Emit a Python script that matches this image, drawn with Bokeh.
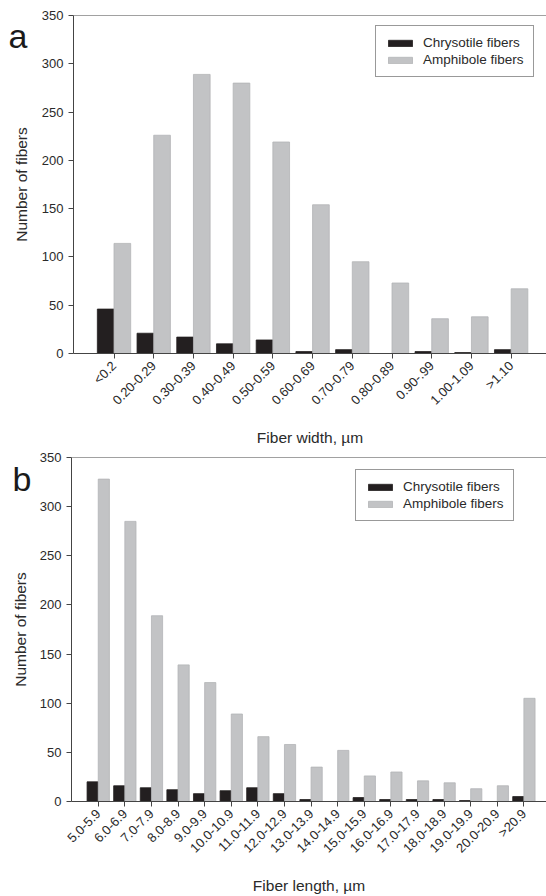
import math
from bokeh.plotting import figure
from bokeh.models import (ColumnDataSource, FixedTicker, Range1d, Legend,
                          LegendItem, Span)
from bokeh.layouts import column, row
from bokeh.transform import dodge
from bokeh.core.properties import value
from bokeh.embed import file_html
from bokeh.resources import INLINE

# ---- data ----
width_cats = ["<0.2", "0.20-0.29", "0.30-0.39", "0.40-0.49", "0.50-0.59", "0.60-0.69",
              "0.70-0.79", "0.80-0.89", "0.90-.99", "1.00-1.09", ">1.10"]
width_chrysotile = [46, 21, 17, 10, 14, 2, 4, 0, 2, 1, 4]
width_amphibole = [114, 226, 289, 280, 219, 154, 95, 73, 36, 38, 67]

length_cats = ["5.0-5.9", "6.0-6.9", "7.0-7.9", "8.0-8.9", "9.0-9.9", "10.0-10.9",
               "11.0-11.9", "12.0-12.9", "13.0-13.9", "14.0-14.9", "15.0-15.9",
               "16.0-16.9", "17.0-17.9", "18.0-18.9", "19.0-19.9", "20.0-20.9", ">20.9"]
length_chrysotile = [20, 16, 14, 12, 8, 11, 14, 8, 2, 0, 4, 2, 2, 2, 1, 0, 5]
length_amphibole = [328, 285, 189, 139, 121, 89, 66, 58, 35, 52, 26, 30, 21, 19, 13, 16, 105]

y_ticks = [0, 50, 100, 150, 200, 250, 300, 350]
series_names = ["Chrysotile fibers", "Amphibole fibers"]
y_title = "Number of fibers"

FONT = "Liberation Sans"
BLACK = "#231f20"
GREY = "#c2c3c5"
AXIS = "#444444"
TEXT = "#2a2a2a"
SIDE_W = 36
FIG_H = 448


def side(letter, letter_pos, ylabel_pos):
    """Narrow strip left of the chart (its frame is aligned with the chart frame)
    holding the panel letter and the y title."""
    s = figure(width=SIDE_W, height=FIG_H, output_backend="svg", toolbar_location=None,
               x_range=Range1d(0, SIDE_W), y_range=Range1d(0, 350),
               min_border=0, x_axis_type=None, y_axis_type=None)
    s.outline_line_color = None
    s.grid.visible = False
    s.text(x=[letter_pos[0]], y=[letter_pos[1]], text=[letter], text_font=value(FONT),
           text_font_size="34px", text_color="#1a1a1a", text_align="left",
           text_baseline="alphabetic")
    s.text(x=[ylabel_pos[0]], y=[ylabel_pos[1]], text=[y_title], text_font=value(FONT),
           text_font_size="15.5px", text_color=TEXT, text_align="center",
           text_baseline="middle", angle=math.pi / 2)
    return s


def panel(cats, chry, amph, xlabel, b_left, b_top, b_bottom, x_start, x_end, legend_xy):
    n = len(cats)
    idx = list(range(n))
    src = ColumnDataSource(dict(x=idx, c=chry, a=amph))
    p = figure(width=546 - SIDE_W, height=FIG_H, output_backend="svg",
               toolbar_location=None,
               x_range=Range1d(x_start, x_end), y_range=Range1d(0, 350),
               min_border_left=b_left, min_border_right=0, min_border_top=b_top,
               min_border_bottom=b_bottom)
    p.outline_line_color = None
    p.grid.visible = False

    bw = 0.42
    r1 = p.vbar(x=dodge("x", -bw / 2, range=p.x_range), top="c", width=bw, source=src,
                fill_color=BLACK, line_color=BLACK, line_width=0.8)
    r2 = p.vbar(x=dodge("x", bw / 2, range=p.x_range), top="a", width=bw, source=src,
                fill_color=GREY, line_color="#b3b4b6", line_width=0.8)

    p.add_layout(Span(location=350, dimension="width", line_color=AXIS, line_width=1))

    for ax in (p.xaxis[0], p.yaxis[0]):
        ax.axis_line_color = AXIS
        ax.major_tick_line_color = AXIS
        ax.minor_tick_line_color = None
        ax.major_tick_in = 0
        ax.major_tick_out = 5
        ax.major_label_text_font = FONT
        ax.major_label_text_font_size = "13px"
        ax.major_label_text_color = TEXT
        ax.axis_label_text_font = FONT
        ax.axis_label_text_font_size = "15.5px"
        ax.axis_label_text_font_style = "normal"
        ax.axis_label_text_color = TEXT

    p.yaxis[0].ticker = FixedTicker(ticks=y_ticks)

    p.xaxis[0].ticker = FixedTicker(ticks=idx)
    p.xaxis[0].major_label_overrides = {i: c for i, c in enumerate(cats)}
    p.xaxis[0].major_label_orientation = math.pi / 4
    p.xaxis[0].axis_label = xlabel
    p.xaxis[0].axis_label_standoff = 13

    leg = Legend(items=[LegendItem(label=series_names[0], renderers=[r1]),
                        LegendItem(label=series_names[1], renderers=[r2])],
                 location=legend_xy, glyph_width=30, glyph_height=8, label_height=14,
                 label_standoff=8, spacing=2, padding=9, margin=0,
                 label_text_font=FONT, label_text_font_size="13.5px",
                 label_text_color=TEXT, border_line_color="#333333", border_line_width=1,
                 background_fill_alpha=1)
    p.add_layout(leg)
    return p


s1 = side("a", (8, 329), (21, 175))
p1 = panel(width_cats, width_chrysotile, width_amphibole, "Fiber width, µm",
           73 - SIDE_W, 15, 91, -1.02, 10.89, (302, 276))
s2 = side("b", (12, 328), (20, 175))
p2 = panel(length_cats, length_chrysotile, length_amphibole, "Fiber length, µm",
           70 - SIDE_W, 9, 94, -1.005, 16.85, (284, 280))

layout = column(row(s1, p1, spacing=0), row(s2, p2, spacing=0), spacing=0)
open("out.html", "w").write(file_html(layout, INLINE))
